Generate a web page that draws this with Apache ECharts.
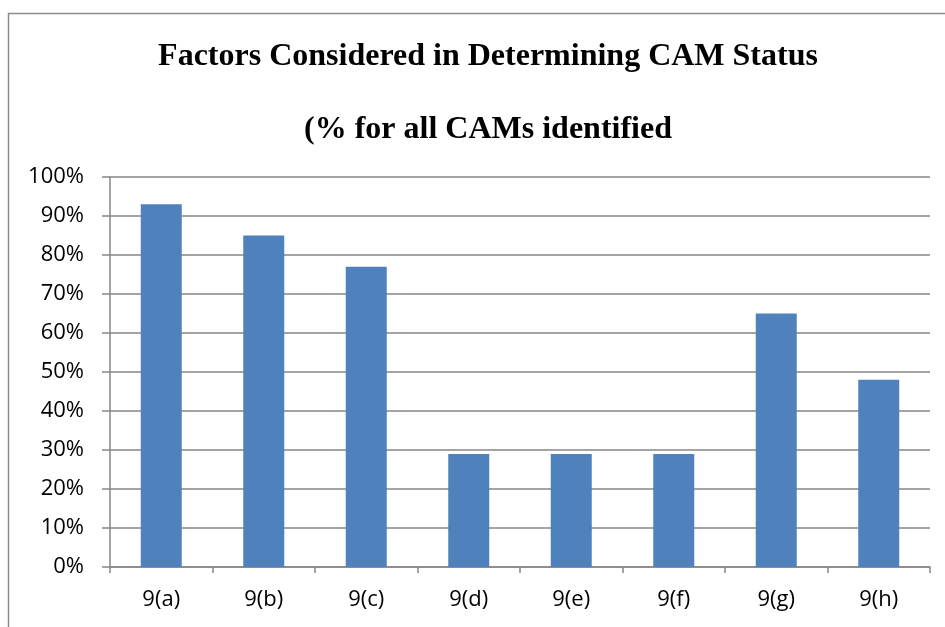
<!DOCTYPE html>
<html>
<head>
<meta charset="utf-8">
<script src="https://cdn.jsdelivr.net/npm/echarts@6/dist/echarts.min.js"></script>
<style>
  html, body { margin: 0; padding: 0; background: #fff; }
  #chart { width: 945px; height: 627px; }
</style>
</head>
<body>
<div id="chart"></div>
<script>
// data
var categories = ['9(a)', '9(b)', '9(c)', '9(d)', '9(e)', '9(f)', '9(g)', '9(h)'];
var percentValues = [93, 85, 77, 29, 29, 29, 65, 48];
var titleLines = ['Factors Considered in Determining CAM Status', '(% for all CAMs identified'];

var chart = echarts.init(document.getElementById('chart'));
var option = {
    animation: false,
    backgroundColor: '#fff',
    title: [
        {
            text: titleLines[0],
            left: 483, top: 36, textAlign: 'center',
            textStyle: { fontFamily: 'Liberation Serif', fontWeight: 'bold', fontSize: 32, color: '#000' }
        },
        {
            text: titleLines[1],
            left: 483, top: 109, textAlign: 'center',
            textStyle: { fontFamily: 'Liberation Serif', fontWeight: 'bold', fontSize: 32, color: '#000' }
        }
    ],
    // outer frame, only top and left edges are inside the picture
    graphic: [{
        type: 'rect',
        shape: { x: 8.5, y: 13.5, width: 1000, height: 1000 },
        style: { fill: 'none', stroke: '#8c8c8c', lineWidth: 1.5 },
        silent: true
    }],
    grid: { left: 110, top: 177, right: 15, bottom: 60 },
    xAxis: {
        type: 'category',
        data: categories,
        axisLine: { lineStyle: { color: '#868686', width: 1.5 } },
        axisTick: { show: true, length: 6, lineStyle: { color: '#868686', width: 1.5 } },
        axisLabel: { margin: 22, fontFamily: 'Open Sans', fontSize: 22, color: '#000' }
    },
    yAxis: {
        type: 'value',
        min: 0, max: 100, interval: 10,
        axisLine: { show: true, lineStyle: { color: '#868686', width: 1.5 } },
        axisTick: { show: true, length: 8, lineStyle: { color: '#868686', width: 1.5 } },
        axisLabel: { margin: 26, fontFamily: 'Open Sans', fontSize: 22, color: '#000', formatter: '{value}%' },
        splitLine: { lineStyle: { color: '#868686', width: 1.5 } }
    },
    series: [{
        type: 'bar',
        data: percentValues,
        barWidth: '40%',
        itemStyle: { color: '#4F81BD' }
    }]
};
chart.setOption(option);
</script>
</body>
</html>
